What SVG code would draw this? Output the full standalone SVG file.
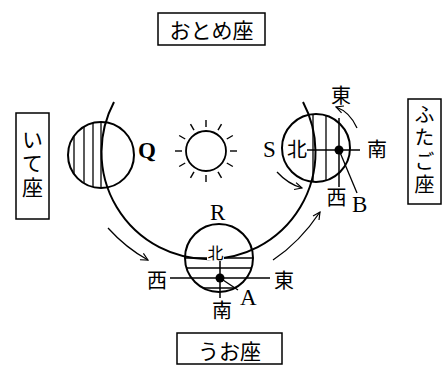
<svg xmlns="http://www.w3.org/2000/svg" width="447" height="365" viewBox="0 0 447 365">
  <style>
    .box { fill: #fff; stroke: #000; stroke-width: 1.5; }
    .jp { font-family: "Noto Sans CJK JP", "Noto Sans", sans-serif; fill: #000; text-anchor: middle; }
    .vert { font-family: "Noto Sans CJK JP", "Noto Sans", sans-serif; fill: #000; writing-mode: vertical-rl; text-anchor: start; }
    .lat { font-family: "Liberation Serif", "DejaVu Serif", serif; fill: #000; font-size: 23px; }
    .earth { fill: none; stroke: #000; stroke-width: 2; }
    .orbit { fill: none; stroke: #000; stroke-width: 2; }
    .shade { stroke: #000; stroke-width: 1.3; }
    .axis { stroke: #000; stroke-width: 1.5; }
    .arrow { fill: none; stroke: #000; stroke-width: 1.3; marker-end: url(#head); }
    .ray { stroke: #000; stroke-width: 1.4; }
  </style>
  <defs>
    <marker id="head" viewBox="0 0 10 10" refX="9" refY="5" markerWidth="9" markerHeight="9" markerUnits="userSpaceOnUse" orient="auto">
      <path d="M1,1 L9,5 L1,9" fill="none" stroke="#000" stroke-width="1.3"/>
    </marker>
    <clipPath id="clipQ"><circle cx="101" cy="155" r="33"/></clipPath>
    <clipPath id="clipS"><circle cx="316" cy="148" r="34"/></clipPath>
    <clipPath id="clipR"><circle cx="219" cy="258" r="34"/></clipPath>
  </defs>

  <!-- constellation labels -->
  <g id="virgo">
    <rect class="box" x="158" y="13" width="107" height="32"/>
    <text class="jp" x="211.5" y="37.5" font-size="21">おとめ座</text>
  </g>
  <g id="sagittarius">
    <rect class="box" x="16" y="113" width="33" height="106"/>
    <text class="vert" x="32.5" y="129" font-size="21" letter-spacing="3">いて座</text>
  </g>
  <g id="gemini">
    <rect class="box" x="408" y="99" width="33" height="105"/>
    <text class="vert" x="424.5" y="104" font-size="20" letter-spacing="3.5">ふたご座</text>
  </g>
  <g id="pisces">
    <rect class="box" x="177" y="333" width="105" height="31"/>
    <text class="jp" x="229.5" y="358.5" font-size="21">うお座</text>
  </g>

  <!-- sun -->
  <g id="sun">
    <circle cx="206" cy="151" r="20" fill="#fff" stroke="#000" stroke-width="1.8"/>
    <g transform="translate(206 151)">
      <line class="ray" x1="24" y1="0" x2="31" y2="0"/>
      <line class="ray" x1="24" y1="0" x2="31" y2="0" transform="rotate(30)"/>
      <line class="ray" x1="24" y1="0" x2="31" y2="0" transform="rotate(60)"/>
      <line class="ray" x1="24" y1="0" x2="31" y2="0" transform="rotate(90)"/>
      <line class="ray" x1="24" y1="0" x2="31" y2="0" transform="rotate(120)"/>
      <line class="ray" x1="24" y1="0" x2="31" y2="0" transform="rotate(150)"/>
      <line class="ray" x1="24" y1="0" x2="31" y2="0" transform="rotate(180)"/>
      <line class="ray" x1="24" y1="0" x2="31" y2="0" transform="rotate(210)"/>
      <line class="ray" x1="24" y1="0" x2="31" y2="0" transform="rotate(240)"/>
      <line class="ray" x1="24" y1="0" x2="31" y2="0" transform="rotate(270)"/>
      <line class="ray" x1="24" y1="0" x2="31" y2="0" transform="rotate(300)"/>
      <line class="ray" x1="24" y1="0" x2="31" y2="0" transform="rotate(330)"/>
    </g>
  </g>

  <!-- orbit and motion arrows -->
  <g id="connectors">
    <path class="orbit" d="M114,102 A107,107 0 1 0 303,102"/>
    <path class="arrow" d="M108,228 Q126,248 148,260"/>
    <path class="arrow" d="M273,260 Q300,242 320,212"/>
    <path class="arrow" d="M277,172 Q288,184 302,188"/>
    <path class="arrow" d="M357,128 Q350,112 336,107"/>
  </g>

  <!-- earth at Q: night side on the left -->
  <g id="earth-q">
    <g clip-path="url(#clipQ)">
      <line class="shade" x1="74" y1="110" x2="74" y2="200"/>
      <line class="shade" x1="84" y1="110" x2="84" y2="200"/>
      <line class="shade" x1="93" y1="110" x2="93" y2="200"/>
      <line class="shade" x1="101" y1="110" x2="101" y2="200"/>
    </g>
    <circle class="earth" cx="101" cy="155" r="33"/>
    <text class="lat" x="138" y="158" font-weight="bold">Q</text>
  </g>

  <!-- earth at S: night side on the right -->
  <g id="earth-s">
    <g clip-path="url(#clipS)">
      <line class="shade" x1="313" y1="110" x2="313" y2="190"/>
      <line class="shade" x1="326" y1="110" x2="326" y2="190"/>
    </g>
    <circle class="earth" cx="316" cy="148" r="34"/>
    <line class="axis" x1="307" y1="150" x2="360" y2="150"/>
    <line class="axis" x1="339" y1="118" x2="339" y2="187"/>
    <line class="shade" x1="339" y1="150" x2="357" y2="193"/>
    <circle cx="339" cy="150" r="4.5" fill="#000"/>
    <text class="jp" x="297" y="157" font-size="20">北</text>
    <text class="jp" x="377" y="157" font-size="20">南</text>
    <text class="jp" x="341" y="103" font-size="20">東</text>
    <text class="jp" x="336.5" y="205" font-size="20">西</text>
    <text class="lat" x="263" y="157">S</text>
    <text class="lat" x="352" y="212">B</text>
  </g>

  <!-- earth at R: night side below -->
  <g id="earth-r">
    <g clip-path="url(#clipR)">
      <line class="shade" x1="180" y1="258" x2="260" y2="258"/>
      <line class="shade" x1="180" y1="268" x2="260" y2="268"/>
      <line class="shade" x1="180" y1="288" x2="260" y2="288"/>
    </g>
    <circle class="earth" cx="219" cy="258" r="34"/>
    <line class="axis" x1="170" y1="278" x2="270" y2="278"/>
    <line class="axis" x1="220" y1="261" x2="220" y2="298"/>
    <line class="shade" x1="220" y1="278" x2="238" y2="290"/>
    <circle cx="220" cy="278" r="4.5" fill="#000"/>
    <rect x="207" y="245" width="17" height="15" fill="#fff"/>
    <text class="jp" x="215.5" y="259" font-size="16">北</text>
    <text class="jp" x="157" y="288" font-size="20">西</text>
    <text class="jp" x="284" y="288" font-size="20">東</text>
    <text class="jp" x="222" y="318" font-size="20">南</text>
    <text class="lat" x="210" y="220">R</text>
    <text class="lat" x="240" y="305">A</text>
  </g>
</svg>
